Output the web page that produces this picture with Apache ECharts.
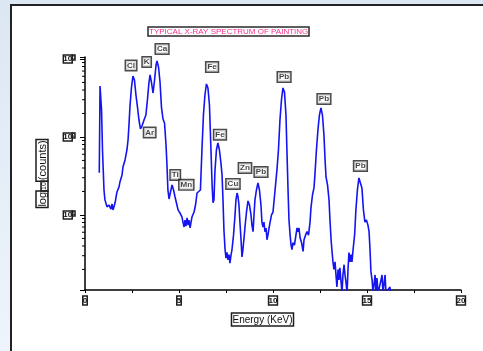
<!DOCTYPE html>
<html>
<head>
<meta charset="utf-8">
<script src="https://cdn.jsdelivr.net/npm/echarts@6/dist/echarts.min.js"></script>
<style>html,body{margin:0;padding:0;}#c{width:483px;height:351px;}</style>
</head>
<body>
<div id="c"></div>
<script>
// Spectrum: energy (keV) and counts
const energy = [0.76,0.80,0.88,0.93,1.01,1.06,1.17,1.28,1.38,1.44,1.49,1.60,1.70,1.81,1.86,1.97,2.02,2.13,2.23,2.29,2.34,2.39,2.47,2.55,2.63,2.71,2.79,2.87,2.95,3.03,3.14,3.24,3.32,3.40,3.46,3.54,3.62,3.70,3.78,3.83,3.91,3.99,4.07,4.15,4.23,4.31,4.36,4.41,4.47,4.57,4.63,4.71,4.79,4.89,4.95,5.05,5.16,5.21,5.27,5.32,5.37,5.43,5.48,5.53,5.59,5.64,5.69,5.80,5.88,5.96,6.06,6.14,6.22,6.30,6.38,6.46,6.54,6.62,6.70,6.76,6.81,6.86,6.91,6.99,7.07,7.15,7.23,7.29,7.34,7.39,7.45,7.50,7.55,7.61,7.66,7.71,7.77,7.82,7.90,7.98,8.03,8.09,8.14,8.19,8.24,8.30,8.35,8.40,8.46,8.51,8.59,8.67,8.75,8.83,8.88,8.94,8.99,9.04,9.12,9.20,9.28,9.36,9.41,9.47,9.52,9.57,9.63,9.68,9.73,9.79,9.84,9.92,10.00,10.11,10.21,10.29,10.37,10.45,10.53,10.61,10.69,10.74,10.80,10.85,10.90,10.96,11.01,11.06,11.14,11.22,11.28,11.33,11.38,11.44,11.52,11.60,11.65,11.73,11.81,11.89,11.97,12.02,12.10,12.18,12.23,12.31,12.39,12.47,12.55,12.63,12.71,12.77,12.82,12.90,12.98,13.03,13.09,13.14,13.19,13.24,13.30,13.35,13.40,13.46,13.51,13.56,13.62,13.67,13.72,13.78,13.83,13.88,13.94,13.99,14.04,14.10,14.15,14.20,14.26,14.34,14.41,14.49,14.57,14.65,14.73,14.81,14.89,14.97,15.05,15.11,15.16,15.21,15.27,15.32,15.37,15.43,15.48,15.53,15.59,15.69,15.80,15.85,15.96,16.01,16.22,16.25];
const counts = [34.8,451,222,68,20.9,15.6,12.7,13.4,11.9,13.8,11.6,14.3,19.7,22.9,26.5,32.6,41.2,50.7,68.1,91.5,143,243,425,605,538,345,243,165,127,138,165,191,298,492,624,492,366,538,838,942,789,507,236,170,151,79,43.8,20.9,16,20.9,24.3,20.9,17,13.4,11.6,10.6,9.4,8.1,7.0,8.6,7.2,9.2,7.4,8.6,6.8,8.1,9.4,10.9,13.4,19.1,19.7,20.9,68,191,345,478,425,257,68,24.3,14.3,15.6,35.6,68,83.7,68,46.4,32.6,15.6,6.4,3.6,2.8,3.3,2.65,3.1,2.4,3.1,3.6,5.5,10,15.6,19.1,17,13.4,8.1,4.8,2.9,3.6,5.1,7.0,10.9,15.1,13.4,10,7.4,6.1,10,15.6,20.9,25.7,20.9,13.4,8.1,7.0,8.1,6.1,6.8,4.8,5.5,6.8,7.9,10,10.9,20.9,37.8,68,165,298,425,378,191,68,20.9,8.6,5.9,4.1,3.6,4.4,4.1,5.5,6.8,6.1,6.8,5.1,4.4,3.4,4.8,5.5,6.1,5.5,8.1,12.3,18,22.2,32.6,68,123,191,236,191,106,50.7,30.7,24.3,15.6,8.6,4.8,3.4,2.5,2.0,2.5,1.7,1.19,2.0,1.47,2.1,1.38,1.0,1.7,2.3,1.7,1.38,1.0,2.0,3.3,2.5,3.1,2.5,3.6,5.5,11.6,20.9,29.8,28.1,22.2,11.6,8.1,8.6,7.4,6.1,3.6,1.86,1.47,1.0,1.27,1.7,1.0,1.55,1.0,1.27,1.7,1.0,1.7,1.0,1.19,1.0];

// Element annotations
const labelNames  = ['Cl','K','Ca','Fe','Pb','Pb','Ar','Fe','Ti','Mn','Cu','Zn','Pb','Pb'];
const labelEnergy = [2.45,3.28,4.10,6.76,10.59,12.71,3.44,7.18,4.80,5.39,7.87,8.51,9.36,14.65];
const labelCounts = [826,915,1343,789,587,307,114,107,32.6,24.3,25,40,35.5,42.5];

// Axis ticks
const xTickLabels = [0,5,10,15,20];
const yMinorTicks = [2,3,4,5,6,7,8,9,20,30,40,50,60,70,80,90,200,300,400,500,600,700,800,900];

const chart = echarts.init(document.getElementById('c'));
const box = {borderColor:'#1e1e1e', borderWidth:1.5, color:'#111'};

chart.setOption({
  animation: false,
  graphic: {elements: [
    {type:'rect', z:-20, silent:true, shape:{x:0,y:0,width:483,height:351},
     style:{fill:new echarts.graphic.LinearGradient(0,0,0,1,[{offset:0,color:'#dce7f4'},{offset:1,color:'#eef4fb'}])}},
    {type:'rect', z:-19, silent:true, shape:{x:11,y:5,width:500,height:400},
     style:{fill:'#ffffff', stroke:'#222', lineWidth:2}}
  ]},
  title: {
    text: 'TYPICAL X-RAY SPECTRUM OF PAINTING',
    left: 148, top: 27,
    padding: [1,1,0,1],
    borderColor: '#2a2a2a', borderWidth: 1.5,
    textStyle: {color:'#f5308f', fontSize:8, fontWeight:'normal', fontFamily:'Liberation Sans Narrow, Liberation Sans, sans-serif'}
  },
  grid: {left:85, right:22, top:57, bottom:61},
  xAxis: {
    type:'value', min:0, max:20, interval:2.5,
    name: '{b|Energy (KeV)}{sp| }', nameLocation:'middle', nameGap:23,
    nameTextStyle: {rich:{b:Object.assign({fontSize:10, padding:[2,1,1,1], fontFamily:'Liberation Sans'}, box), sp:{width:21}}},
    axisLine:{lineStyle:{color:'#000', width:1.5}},
    axisTick:{length:3, lineStyle:{color:'#000'}},
    axisLabel:{margin:6, formatter: v => xTickLabels.indexOf(v) >= 0 ? '{b|' + v + '}' : '',
      rich:{b:Object.assign({fontSize:8, fontWeight:'bold', padding:[1,0,0,0], fontFamily:'Liberation Sans Narrow, Liberation Sans'}, box)}},
    splitLine:{show:false}
  },
  yAxis: {
    type:'log', min:1.09, max:1060,
    name: '{b|log}{sub|10}{b|(counts)}', nameLocation:'middle', nameGap:37, nameRotate:90,
    nameTextStyle: {rich:{
      b:Object.assign({fontSize:11, padding:[1,1,0,1], fontFamily:'Liberation Sans'}, box),
      sub:Object.assign({fontSize:7, padding:[0,1,0,1], verticalAlign:'bottom', fontFamily:'Liberation Sans'}, box)
    }},
    axisLine:{show:true, lineStyle:{color:'#000', width:1.5}},
    axisTick:{length:5, lineStyle:{color:'#000'}},
    axisLabel:{margin:10, formatter: v => {
        const e = Math.log10(v); const r = Math.round(e);
        return Math.abs(e - r) < 1e-6 ? '{b|10}{s|' + r + '}' : '';
      },
      rich:{
        b:Object.assign({fontSize:8, fontWeight:'bold', padding:[0,0,0,0], fontFamily:'Liberation Sans Narrow, Liberation Sans'}, box),
        s:Object.assign({fontSize:5, padding:[0,0,0,0], verticalAlign:'top', fontFamily:'Liberation Sans'}, box)
      }},
    splitLine:{show:false}
  },
  series: [
    {
      type:'line', data: energy.map((e,i)=>[e, counts[i]]),
      showSymbol:false, symbol:'none', clip:true,
      lineStyle:{color:'#1414f0', width:1.6}
    },
    {
      type:'custom', clip:false, silent:true,
      data: yMinorTicks.map(v => [0, v]),
      renderItem: (params, api) => {
        const p = api.coord([api.value(0), api.value(1)]);
        return {type:'line', shape:{x1:p[0]-3, y1:p[1], x2:p[0], y2:p[1]}, style:{stroke:'#000', lineWidth:1}};
      }
    },
    {
      type:'scatter', symbolSize:0, clip:false, silent:true,
      data: labelNames.map((n,i)=>({name:n, value:[labelEnergy[i], labelCounts[i]]})),
      label:{show:true, position:'inside', formatter:'{b}', fontSize:8, fontWeight:'bold', color:'#111',
        fontFamily:'Liberation Sans', borderColor:'#1e1e1e', borderWidth:1.5, padding:[1,1,0,1], backgroundColor:'#fff'}
    }
  ]
});
</script>
</body>
</html>
